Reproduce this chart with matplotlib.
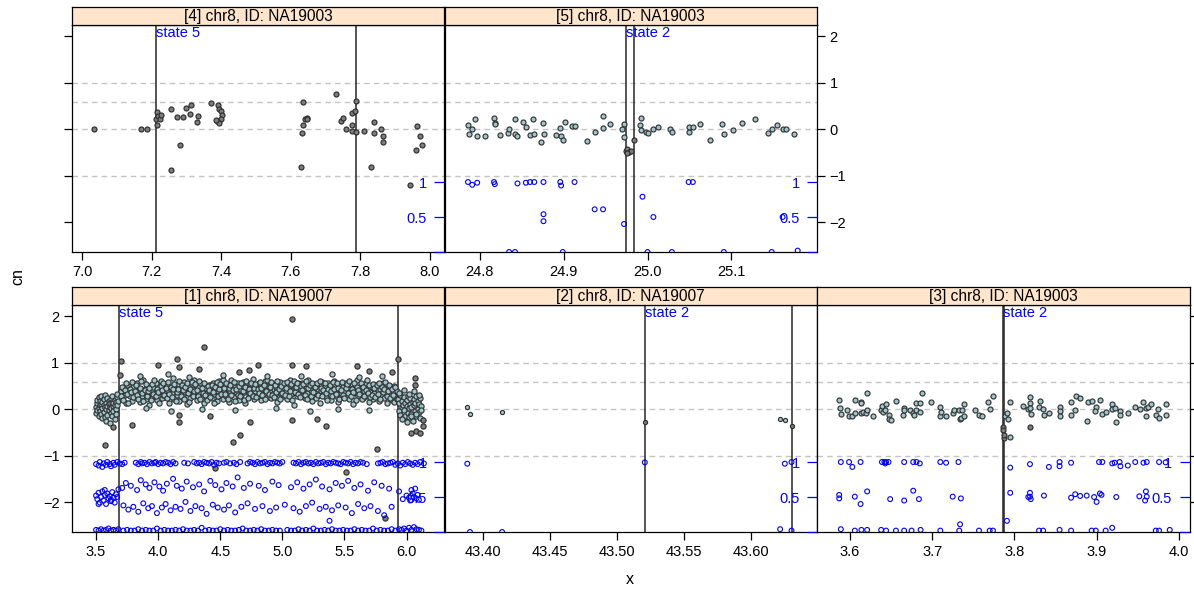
import matplotlib.pyplot as plt
import numpy as np

plt.rcParams['font.family'] = ['Liberation Sans', 'DejaVu Sans']

# ---------------- data ----------------
ref_levels = [-1, 0, 0.585, 1]

# panel [1] chr8, ID: NA19007
p1_xa = [3.50, 3.50, 3.51, 3.51, 3.51, 3.52, 3.52, 3.52, 3.53, 3.53, 3.53, 3.54, 3.54, 3.54,
         3.55, 3.55, 3.55, 3.56, 3.56, 3.56, 3.57, 3.57, 3.57, 3.58, 3.58, 3.58, 3.59, 3.59,
         3.59, 3.60, 3.60, 3.60, 3.61, 3.61, 3.61, 3.62, 3.62, 3.62, 3.63, 3.63, 3.63, 3.64,
         3.64, 3.64, 3.65, 3.65, 3.65, 3.66, 3.66, 3.66, 3.67, 3.67, 3.67, 3.68]
p1_cna = [0.05, -0.08, 0.12, -0.02, 0.20, 0.02, -0.15, 0.25, 0.08, -0.05, 0.18, -0.10, 0.10, 0.28,
          -0.20, 0.03, 0.15, 0.22, -0.06, 0.09, -0.18, 0.05, 0.30, 0.14, -0.25, 0.00, 0.07, -0.12,
          0.24, 0.18, -0.02, 0.10, -0.30, 0.12, 0.05, 0.21, -0.08, 0.02, 0.16, -0.14, 0.27, 0.06,
          -0.04, 0.13, 0.20, -0.22, 0.09, 0.01, 0.15, -0.10, 0.25, 0.08, 0.32, 0.18]

p1_xb = [3.70, 3.71, 3.72, 3.73, 3.74, 3.75, 3.76, 3.77, 3.78, 3.79, 3.80, 3.81,
         3.82, 3.83, 3.84, 3.85, 3.86, 3.87, 3.88, 3.89, 3.90, 3.91, 3.92, 3.93,
         3.94, 3.95, 3.96, 3.97, 3.98, 3.99, 4.00, 4.01, 4.02, 4.03, 4.04, 4.05,
         4.06, 4.07, 4.08, 4.09, 4.10, 4.11, 4.12, 4.13, 4.14, 4.15, 4.16, 4.17,
         4.18, 4.19, 4.20, 4.21, 4.22, 4.23, 4.24, 4.25, 4.26, 4.27, 4.28, 4.29,
         4.30, 4.31, 4.32, 4.33, 4.34, 4.35, 4.36, 4.37, 4.38, 4.39, 4.40, 4.41,
         4.42, 4.43, 4.44, 4.45, 4.46, 4.47, 4.48, 4.49, 4.50, 4.51, 4.52, 4.53,
         4.54, 4.55, 4.56, 4.57, 4.58, 4.59, 4.60, 4.61, 4.62, 4.63, 4.64, 4.65,
         4.66, 4.67, 4.68, 4.69, 4.70, 4.71, 4.72, 4.73, 4.74, 4.75, 4.76, 4.77,
         4.78, 4.79, 4.80, 4.81, 4.82, 4.83, 4.84, 4.85, 4.86, 4.87, 4.88, 4.89,
         4.90, 4.91, 4.92, 4.93, 4.94, 4.95, 4.96, 4.97, 4.98, 4.99, 5.00, 5.01,
         5.02, 5.03, 5.04, 5.05, 5.06, 5.07, 5.08, 5.09, 5.10, 5.11, 5.12, 5.13,
         5.14, 5.15, 5.16, 5.17, 5.18, 5.19, 5.20, 5.21, 5.22, 5.23, 5.24, 5.25,
         5.26, 5.27, 5.28, 5.29, 5.30, 5.31, 5.32, 5.33, 5.34, 5.35, 5.36, 5.37,
         5.38, 5.39, 5.40, 5.41, 5.42, 5.43, 5.44, 5.45, 5.46, 5.47, 5.48, 5.49,
         5.50, 5.51, 5.52, 5.53, 5.54, 5.55, 5.56, 5.57, 5.58, 5.59, 5.60, 5.61,
         5.62, 5.63, 5.64, 5.65, 5.66, 5.67, 5.68, 5.69, 5.70, 5.71, 5.72, 5.73,
         5.74, 5.75, 5.76, 5.77, 5.78, 5.79, 5.80, 5.81, 5.82, 5.83, 5.84, 5.85,
         5.86, 5.87, 5.88, 5.89, 5.90, 5.91, 5.92]
p1_cnb1 = [0.38, 0.22, 0.45, 0.30, 0.12, 0.52, 0.35, 0.27, 0.41, 0.18, 0.48, 0.33,
           0.25, 0.56, 0.40, 0.15, 0.37, 0.29, 0.62, 0.44, 0.21, 0.34, 0.50, 0.08,
           0.39, 0.26, 0.47, 0.32, 0.55, 0.19, 0.42, 0.36, 0.60, 0.24, 0.31, 0.46,
           0.28, 0.51, 0.38, 0.14, 0.43, 0.35, 0.66, 0.22, 0.40, 0.30, 0.53, 0.17,
           0.45, 0.33, 0.27, 0.58, 0.36, 0.10, 0.49, 0.39, 0.23, 0.44, 0.31, 0.62,
           0.37, 0.20, 0.48, 0.34, 0.55, 0.26, 0.41, 0.13, 0.46, 0.35, 0.29, 0.52,
           0.40, 0.24, 0.57, 0.33, 0.44, 0.18, 0.38, 0.61, 0.30, 0.47, 0.22, 0.36,
           0.50, 0.28, 0.42, 0.15, 0.39, 0.63, 0.34, 0.25, 0.48, 0.37, 0.55, 0.20,
           0.43, 0.31, 0.58, 0.36, 0.12, 0.46, 0.40, 0.27, 0.53, 0.33, 0.65, 0.22,
           0.39, 0.48, 0.29, 0.56, 0.35, 0.19, 0.44, 0.32, 0.60, 0.41, 0.26, 0.50,
           0.37, 0.23, 0.54, 0.42, 0.30, 0.47, 0.16, 0.38, 0.59, 0.33, 0.45, 0.27,
           0.51, 0.36, 0.21, 0.44, 0.62, 0.32, 0.40, 0.09, 0.48, 0.35, 0.28, 0.55,
           0.42, 0.30, 0.57, 0.38, 0.24, 0.46, 0.34, 0.63, 0.26, 0.41, 0.18, 0.49,
           0.36, 0.52, 0.29, 0.44, 0.14, 0.39, 0.58, 0.31, 0.47, 0.25, 0.40, 0.55,
           0.33, 0.20, 0.45, 0.37, 0.60, 0.28, 0.42, 0.16, 0.50, 0.35, 0.26, 0.48,
           0.39, 0.57, 0.30, 0.43, 0.22, 0.36, 0.53, 0.11, 0.41, 0.34, 0.62, 0.27,
           0.45, 0.32, 0.50, 0.24, 0.38, 0.56, 0.29, 0.42, 0.15, 0.36, 0.47, 0.21,
           0.34, 0.51, 0.27, 0.40, 0.18, 0.44, 0.30, 0.55, 0.23, 0.37, 0.12, 0.46,
           0.31, 0.42, 0.20, 0.35, 0.50, 0.26, 0.38]
p1_cnb2 = [0.28, 0.47, 0.19, 0.40, 0.55, 0.32, 0.14, 0.43, 0.36, 0.58, 0.25, 0.39,
           0.51, 0.30, 0.22, 0.45, 0.60, 0.34, 0.17, 0.41, 0.53, 0.27, 0.38, 0.46,
           0.20, 0.54, 0.33, 0.63, 0.29, 0.44, 0.37, 0.12, 0.50, 0.41, 0.57, 0.31,
           0.45, 0.23, 0.59, 0.33, 0.48, 0.26, 0.42, 0.54, 0.18, 0.37, 0.44, 0.61,
           0.29, 0.52, 0.40, 0.21, 0.47, 0.56, 0.34, 0.16, 0.43, 0.58, 0.27, 0.38,
           0.54, 0.41, 0.29, 0.60, 0.22, 0.45, 0.35, 0.57, 0.31, 0.19, 0.49, 0.40,
           0.26, 0.51, 0.36, 0.14, 0.47, 0.58, 0.27, 0.43, 0.53, 0.32, 0.62, 0.45,
           0.33, 0.57, 0.21, 0.46, 0.52, 0.30, 0.40, 0.59, 0.18, 0.43, 0.31, 0.49,
           0.27, 0.55, 0.38, 0.20, 0.48, 0.61, 0.24, 0.44, 0.35, 0.57, 0.29, 0.46,
           0.53, 0.25, 0.42, 0.34, 0.59, 0.46, 0.30, 0.51, 0.22, 0.38, 0.62, 0.33,
           0.47, 0.58, 0.31, 0.26, 0.52, 0.37, 0.60, 0.44, 0.21, 0.50, 0.34, 0.56,
           0.30, 0.45, 0.58, 0.27, 0.39, 0.53, 0.20, 0.61, 0.36, 0.47, 0.55, 0.32,
           0.26, 0.49, 0.40, 0.54, 0.31, 0.60, 0.22, 0.45, 0.52, 0.29, 0.57, 0.37,
           0.48, 0.23, 0.55, 0.31, 0.61, 0.46, 0.27, 0.40, 0.56, 0.35, 0.20, 0.44,
           0.51, 0.38, 0.27, 0.58, 0.43, 0.32, 0.55, 0.45, 0.22, 0.41, 0.59, 0.30,
           0.24, 0.46, 0.53, 0.35, 0.60, 0.28, 0.44, 0.37, 0.55, 0.19, 0.48, 0.40,
           0.33, 0.56, 0.22, 0.47, 0.29, 0.41, 0.62, 0.35, 0.51, 0.25, 0.30, 0.53,
           0.45, 0.26, 0.52, 0.33, 0.57, 0.21, 0.48, 0.36, 0.42, 0.58, 0.28, 0.39,
           0.52, 0.24, 0.44, 0.30, 0.16, 0.47, 0.22]
p1_xe = [3.85, 4.08, 4.25, 4.52, 4.88, 5.15, 5.40, 5.62, 5.80,
         3.90, 4.10, 4.35, 4.62, 4.95, 5.22, 5.45, 5.70]
p1_cne = [0.70, 0.76, 0.68, 0.74, 0.72, 0.70, 0.75, 0.68, 0.71,
          0.02, -0.05, 0.00, -0.02, 0.03, -0.04, 0.01, -0.03]

p1_xc = [5.93, 5.94, 5.94, 5.95, 5.95, 5.96, 5.96, 5.97, 5.97, 5.98, 5.98, 5.99, 5.99,
         6.00, 6.00, 6.01, 6.01, 6.02, 6.02, 6.03, 6.03, 6.04, 6.04, 6.05, 6.05, 6.06,
         6.06, 6.07, 6.07, 6.08, 6.08, 6.09, 6.09, 6.10, 6.10, 6.11, 6.11, 6.12, 6.12,
         5.94, 5.96, 5.98, 6.00, 6.02, 6.04, 6.06, 6.08, 6.10]
p1_cnc = [0.22, -0.05, 0.12, 0.30, -0.12, 0.05, 0.18, -0.20, 0.08, 0.25, -0.02, 0.14, -0.15,
          0.06, 0.20, -0.08, 0.28, 0.02, -0.18, 0.10, 0.24, -0.10, 0.04, 0.16, -0.25, 0.09,
          0.21, -0.04, 0.13, 0.27, -0.14, 0.01, 0.17, -0.06, 0.11, 0.23, -0.20, 0.07, -0.02,
          0.35, -0.22, 0.40, -0.28, 0.33, -0.16, 0.38, -0.10, 0.30]

p1_xd = [3.70, 3.69, 3.57, 3.64, 3.79, 4.00, 4.15, 4.17, 4.17, 4.17, 4.37, 4.33, 4.42, 4.46,
         4.60, 4.66, 4.65, 4.74, 4.80, 4.73, 5.08, 5.08, 5.08, 5.19, 5.28, 5.35, 5.51, 5.60,
         5.70, 5.76, 5.83, 5.88, 5.93, 6.07, 6.07, 6.04, 6.08, 6.11, 6.13, 6.13]
p1_cnd = [1.04, 0.73, -0.77, -0.39, -0.34, 0.94, 1.07, 0.90, -0.13, -0.29, 1.34, 0.85, -0.15,
          -1.26, -0.70, -0.56, 0.80, -0.27, 0.95, 0.84, 1.93, 0.95, -0.23, 0.92, -0.22, -0.36,
          -1.36, 0.92, 0.82, -0.86, -2.34, 0.80, 1.07, 0.66, 0.51, -0.52, -0.47, -0.51, -0.36,
          -0.24]

# B allele frequency, panel 1
p1_bx1 = [3.50, 3.52, 3.53, 3.55, 3.56, 3.58, 3.59, 3.61, 3.62, 3.64, 3.65, 3.67, 3.69, 3.71, 3.73,
          3.82, 3.84, 3.86, 3.87, 3.89, 3.91, 3.93, 3.95, 3.97, 3.98, 4.00, 4.02, 4.04, 4.06,
          4.08, 4.10, 4.12, 4.14,
          4.21, 4.24,
          4.29, 4.31, 4.33, 4.35, 4.37, 4.39, 4.41, 4.43, 4.45, 4.47, 4.49,
          4.53, 4.55, 4.58, 4.61, 4.63, 4.66,
          4.72, 4.74, 4.76, 4.78, 4.80, 4.82, 4.84, 4.86, 4.88, 4.90, 4.92, 4.94, 4.96, 4.98, 5.00,
          5.09, 5.11, 5.13, 5.15, 5.17, 5.19, 5.21, 5.23, 5.25, 5.27, 5.29, 5.31, 5.33, 5.35,
          5.37, 5.39, 5.41, 5.43, 5.45, 5.47, 5.49, 5.51, 5.53, 5.55, 5.57, 5.59, 5.61, 5.63,
          5.65, 5.68,
          5.77, 5.79, 5.81, 5.83, 5.85, 5.87, 5.89, 5.91, 5.93, 5.95, 5.97, 5.99, 6.01, 6.03,
          6.05, 6.07, 6.09, 6.11, 6.14]
p1_b1 = [0.97, 0.95, 1.0, 0.93, 0.98, 0.96, 1.0, 0.97, 0.94, 0.99, 0.96, 1.0, 0.98, 0.97, 0.99,
         0.99, 0.97, 1.0, 0.98, 0.99, 0.97, 1.0, 0.98, 0.99, 1.0, 0.97, 0.99, 0.98, 1.0,
         0.99, 0.97, 1.0, 0.98,
         0.99, 0.98,
         1.0, 0.98, 0.99, 0.97, 1.0, 0.99, 0.98, 1.0, 0.96, 0.99, 0.98,
         0.99, 1.0, 0.98, 0.99, 0.97, 1.0,
         0.98, 1.0, 0.99, 0.97, 1.0, 0.98, 0.99, 1.0, 0.97, 0.99, 0.98, 1.0, 0.99, 0.98, 1.0,
         0.99, 0.98, 1.0, 0.97, 0.99, 1.0, 0.98, 0.99, 0.97, 1.0, 0.98, 0.99, 1.0, 0.97,
         0.99, 0.98, 1.0, 0.99, 0.98, 0.97, 1.0, 0.99, 0.98, 1.0, 0.97, 0.99, 0.98, 1.0,
         0.99, 0.97,
         0.98, 0.99, 1.0, 0.97, 0.98, 0.99, 1.0, 0.96, 0.98, 0.95, 0.99, 0.97, 1.0, 0.98,
         0.96, 0.99, 0.97, 1.0, 0.98]
p1_bx0 = [3.50, 3.52, 3.54, 3.56, 3.58, 3.60, 3.62, 3.64, 3.66, 3.68,
          3.72, 3.75, 3.78, 3.81, 3.84, 3.87, 3.90, 3.93, 3.96, 3.99, 4.02, 4.05, 4.08, 4.11,
          4.14, 4.17, 4.20, 4.23, 4.26, 4.29, 4.32, 4.35, 4.38, 4.41, 4.44, 4.47, 4.50, 4.53,
          4.56, 4.59, 4.62, 4.65, 4.68, 4.71, 4.74, 4.77, 4.80, 4.83, 4.86, 4.89, 4.92, 4.95,
          4.98,
          5.04, 5.07, 5.10, 5.13, 5.16, 5.19, 5.22, 5.25, 5.28, 5.31, 5.34, 5.37, 5.40, 5.43,
          5.46, 5.49, 5.52, 5.55, 5.58, 5.61, 5.64, 5.67, 5.70, 5.73, 5.76, 5.79, 5.82, 5.85,
          5.88, 5.91,
          5.94, 5.96, 5.98, 6.00, 6.02, 6.04, 6.06, 6.08, 6.10, 6.12]
p1_b0 = [0.03, 0.02, 0.04, 0.02, 0.03, 0.05, 0.02, 0.03, 0.02, 0.04,
         0.02, 0.03, 0.02, 0.02, 0.04, 0.02, 0.03, 0.02, 0.02, 0.05, 0.02, 0.03, 0.02, 0.02,
         0.03, 0.02, 0.04, 0.02, 0.02, 0.03, 0.02, 0.06, 0.02, 0.03, 0.02, 0.02, 0.04, 0.02,
         0.03, 0.02, 0.02, 0.03, 0.05, 0.02, 0.02, 0.03, 0.02, 0.04, 0.02, 0.02, 0.03, 0.02,
         0.02,
         0.03, 0.02, 0.02, 0.04, 0.02, 0.03, 0.02, 0.05, 0.02, 0.02, 0.03, 0.02, 0.04, 0.02,
         0.02, 0.03, 0.02, 0.02, 0.04, 0.02, 0.03, 0.02, 0.02, 0.05, 0.02, 0.03, 0.02, 0.02,
         0.04, 0.02,
         0.04, 0.03, 0.05, 0.02, 0.06, 0.03, 0.07, 0.04, 0.03, 0.02]
p1_bxh = [3.50, 3.51, 3.52, 3.53, 3.54, 3.55, 3.56, 3.57, 3.58, 3.59, 3.60, 3.61, 3.62, 3.63,
          3.64, 3.65, 3.66, 3.67, 3.68, 3.52, 3.57, 3.62,
          3.71, 3.74, 3.78, 3.83, 3.86, 3.90, 3.93, 3.97, 4.01, 4.04, 4.07, 4.12, 4.15, 4.19,
          4.23, 4.28, 4.33, 4.37, 4.42, 4.46, 4.51, 4.55, 4.60, 4.64, 4.69, 4.74, 4.81, 4.86,
          4.92, 4.97, 5.07, 5.12, 5.17, 5.22, 5.27, 5.32, 5.38, 5.43, 5.48, 5.53, 5.58, 5.63,
          5.69, 5.74, 5.80, 5.86,
          3.72, 3.76, 3.80, 3.84, 3.88, 3.92, 3.95, 3.99, 4.03, 4.06, 4.10, 4.14, 4.18, 4.22,
          4.26, 4.30, 4.35, 4.39, 4.44, 4.48, 4.53, 4.57, 4.62, 4.67, 4.72, 4.78, 4.84, 4.90,
          4.95, 5.02, 5.09, 5.14, 5.19, 5.24, 5.30, 5.35, 5.40, 5.45, 5.51, 5.56, 5.61, 5.66,
          5.71, 5.77, 5.82, 5.88,
          5.94, 5.97, 6.00, 6.03, 6.05, 6.06, 6.07, 6.08, 6.09, 6.10, 6.04, 6.02, 5.38]
p1_bh = [0.52, 0.47, 0.56, 0.42, 0.50, 0.58, 0.45, 0.53, 0.40, 0.55, 0.48, 0.51, 0.44, 0.57,
         0.49, 0.42, 0.54, 0.50, 0.61, 0.40, 0.60, 0.46,
         0.63, 0.70, 0.66, 0.60, 0.74, 0.68, 0.63, 0.71, 0.65, 0.59, 0.69, 0.76, 0.66, 0.62,
         0.72, 0.64, 0.68, 0.58, 0.73, 0.67, 0.61, 0.70, 0.65, 0.78, 0.63, 0.69, 0.66, 0.60,
         0.72, 0.67, 0.64, 0.71, 0.62, 0.68, 0.75, 0.65, 0.61, 0.70, 0.66, 0.73, 0.63, 0.68,
         0.59, 0.71, 0.66, 0.62,
         0.38, 0.32, 0.36, 0.29, 0.41, 0.34, 0.37, 0.27, 0.35, 0.40, 0.31, 0.36, 0.33, 0.43,
         0.30, 0.37, 0.34, 0.26, 0.39, 0.35, 0.32, 0.38, 0.28, 0.36, 0.41, 0.33, 0.37, 0.30,
         0.35, 0.39, 0.34, 0.29, 0.37, 0.42, 0.33, 0.36, 0.31, 0.38, 0.35, 0.27, 0.40, 0.34,
         0.37, 0.30, 0.24, 0.36,
         0.58, 0.47, 0.52, 0.45, 0.55, 0.50, 0.62, 0.48, 0.53, 0.46, 0.60, 0.49, 0.16]

# panel [2] chr8, ID: NA19007
p2_x = [43.388, 43.390, 43.414, 43.6215, 43.625]
p2_cn = [0.04, -0.11, -0.06, -0.21, -0.24]
p2_xd = [43.5205, 43.630]
p2_cnd = [-0.29, -0.36]
p2_bx = [43.388, 43.5205, 43.625, 43.630, 43.390, 43.414, 43.6215, 43.630]
p2_b = [0.976, 0.995, 0.976, 1.0, 0.0, 0.0, 0.04, 0.02]

# panel [3] chr8, ID: NA19003
p3_x = [3.587, 3.588, 3.589, 3.596, 3.599, 3.603, 3.606, 3.606, 3.613, 3.613, 3.613, 3.616,
        3.619, 3.621, 3.621, 3.628, 3.638, 3.639, 3.640, 3.643, 3.644, 3.647, 3.648, 3.650,
        3.656, 3.665, 3.666, 3.666, 3.673, 3.677, 3.678, 3.681, 3.681, 3.685, 3.685, 3.688,
        3.699, 3.709, 3.710, 3.711, 3.717, 3.725, 3.727, 3.733, 3.734, 3.735, 3.736, 3.739,
        3.739, 3.752, 3.757, 3.761, 3.768, 3.770, 3.774,
        3.789, 3.792, 3.791, 3.795, 3.795, 3.811, 3.817, 3.819, 3.819, 3.819, 3.820, 3.831,
        3.830, 3.835, 3.836, 3.842, 3.855, 3.855, 3.855, 3.869, 3.869, 3.874, 3.875, 3.880,
        3.888, 3.889, 3.895, 3.899, 3.898, 3.904, 3.906, 3.911, 3.919, 3.919, 3.922, 3.924,
        3.928, 3.929, 3.938, 3.947, 3.953, 3.957, 3.960, 3.960, 3.962, 3.966, 3.972, 3.975,
        3.976, 3.985, 3.984]
p3_cn = [0.19, 0.02, -0.11, -0.02, -0.15, -0.14, 0.19, -0.09, 0.16, 0.12, -0.09, -0.06,
         -0.08, 0.35, -0.02, -0.16, -0.02, 0.07, -0.06, -0.02, 0.11, -0.13, -0.22, -0.24,
         0.18, -0.13, 0.02, -0.02, -0.02, -0.09, -0.13, 0.14, -0.02, 0.14, -0.06, 0.35,
         0.16, 0.04, -0.16, -0.06, -0.14, -0.09, -0.02, -0.02, -0.22, -0.20, -0.02, 0.11,
         -0.14, -0.02, -0.13, -0.14, 0.16, 0.00, 0.28,
         -0.16, -0.22, -0.09, 0.16, -0.61, 0.07, 0.00, 0.25, 0.14, 0.02, -0.11, 0.17,
         0.05, 0.00, -0.13, -0.09, 0.05, -0.04, -0.16, 0.16, -0.12, -0.02, 0.28, 0.24,
         -0.25, 0.15, 0.17, 0.05, -0.04, 0.19, -0.11, -0.06, 0.11, 0.00, 0.02, -0.27,
         -0.04, -0.13, -0.09, 0.05, 0.00, 0.16, 0.02, -0.15, 0.04, 0.11, -0.13, 0.00,
         -0.20, 0.11, -0.13]
p3_xd = [3.786, 3.787, 3.786, 3.787, 3.819]
p3_cnd = [-0.38, -0.63, -0.45, -0.55, -0.38]
p3_bx = [3.589, 3.599, 3.603, 3.613, 3.639, 3.642, 3.643, 3.644, 3.647, 3.666, 3.677, 3.681,
         3.685, 3.710, 3.717, 3.732,
         3.587, 3.587, 3.606, 3.613, 3.621, 3.649, 3.666, 3.677, 3.684, 3.725, 3.735, 3.734,
         3.589, 3.606, 3.614, 3.621, 3.638, 3.644, 3.656, 3.666, 3.675, 3.686, 3.710, 3.733,
         3.757, 3.770, 3.774,
         3.795, 3.819, 3.842, 3.855, 3.855, 3.869, 3.903, 3.907, 3.919, 3.922, 3.928, 3.929,
         3.938, 3.947, 3.957, 3.961, 3.976, 3.984,
         3.791, 3.795, 3.817, 3.819, 3.819, 3.820, 3.836, 3.869, 3.874, 3.880, 3.888, 3.897,
         3.900, 3.904, 3.906, 3.924, 3.952, 3.960, 3.961, 3.959,
         3.830, 3.835, 3.855, 3.869, 3.894, 3.899, 3.911, 3.919, 3.972, 3.976, 3.989]
p3_b = [1.0, 1.0, 0.93, 1.0, 1.0, 1.0, 0.98, 1.0, 1.0, 1.0, 1.0, 1.0,
        0.98, 1.0, 0.99, 1.0,
        0.53, 0.48, 0.505, 0.40, 0.58, 0.47, 0.45, 0.59, 0.47, 0.505, 0.48, 0.11,
        0.04, 0.02, 0.03, 0.03, 0.03, 0.02, 0.02, 0.02, 0.02, 0.03, 0.02, 0.02,
        0.02, 0.02, 0.02,
        0.92, 0.97, 0.93, 1.0, 0.94, 0.99, 1.0, 1.0, 0.98, 0.99, 1.0, 0.94,
        0.95, 1.0, 0.99, 1.0, 1.0, 0.995,
        0.16, 0.56, 0.50, 0.56, 0.505, 0.47, 0.52, 0.49, 0.54, 0.515, 0.52, 0.50,
        0.43, 0.55, 0.53, 0.50, 0.51, 0.58, 0.505, 0.45,
        0.02, 0.02, 0.03, 0.02, 0.02, 0.02, 0.02, 0.06, 0.02, 0.02, 0.03]

# panel [4] chr8, ID: NA19003
p4_x = [7.035, 7.169, 7.186, 7.215, 7.213, 7.215, 7.219, 7.223, 7.227, 7.255, 7.255, 7.272,
        7.281, 7.291, 7.298, 7.314, 7.312, 7.331, 7.334, 7.372, 7.391, 7.394, 7.401, 7.404,
        7.400, 7.389, 7.394, 7.384, 7.629, 7.634, 7.637, 7.636, 7.641, 7.646, 7.648, 7.731,
        7.746, 7.751, 7.760, 7.778, 7.777, 7.776, 7.784, 7.788, 7.789, 7.811, 7.832, 7.840,
        7.841, 7.859, 7.866, 7.866, 7.944, 7.960, 7.963, 7.973, 7.979]
p4_cn = [-0.01, 0.01, 0.01, 0.37, 0.21, 0.08, 0.29, 0.22, 0.30, 0.42, -0.88, 0.25,
         -0.34, 0.25, 0.46, 0.52, 0.33, 0.16, 0.29, 0.56, 0.51, 0.43, 0.39, 0.30,
         0.21, 0.18, 0.12, 0.19, -0.82, -0.09, 0.09, 0.58, 0.22, 0.24, 0.21, 0.75,
         0.18, 0.24, 0.01, 0.09, -0.04, 0.35, 0.39, 0.60, -0.06, -0.04, -0.82, -0.09,
         0.16, -0.01, -0.15, -0.28, -1.20, -0.46, 0.06, -0.15, -0.34]

# panel [5] chr8, ID: NA19003
p5_x = [24.786, 24.791, 24.794, 24.787, 24.797, 24.806, 24.817, 24.818, 24.818, 24.824,
        24.834, 24.835, 24.842, 24.842, 24.845, 24.852, 24.855, 24.860, 24.863, 24.865,
        24.876, 24.877, 24.873, 24.891, 24.896, 24.897, 24.899, 24.902, 24.910, 24.913,
        24.928, 24.937, 24.947, 24.947, 24.955, 24.970, 24.972, 24.972, 24.992, 24.991,
        24.992, 24.998, 25.001, 25.007, 25.012, 25.027, 25.029, 25.049, 25.050, 25.054,
        25.062, 25.074, 25.089, 25.091, 25.102, 25.113, 25.128, 25.144, 25.148, 25.154,
        25.161, 25.165, 25.175]
p5_cn = [0.09, 0.01, 0.21, -0.11, -0.14, -0.14, 0.24, 0.14, 0.11, -0.12,
         -0.09, -0.01, 0.22, -0.11, -0.16, 0.16, 0.05, -0.13, 0.21, -0.11,
         0.14, -0.10, -0.29, -0.12, 0.03, -0.14, -0.24, 0.15, 0.06, 0.06,
         -0.25, -0.07, 0.27, 0.03, 0.11, -0.01, 0.11, -0.17, 0.24, 0.08,
         -0.02, -0.07, -0.09, -0.01, 0.05, 0.01, -0.06, -0.06, 0.04, 0.05,
         0.10, -0.24, 0.11, -0.11, -0.02, 0.13, 0.21, -0.09, 0.00, 0.09,
         0.01, 0.01, -0.11]
p5_xd = [24.974, 24.976, 24.978, 24.980, 24.976, 24.984]
p5_cnd = [-0.47, -0.42, -0.49, -0.47, -0.51, -0.24]
p5_bx = [24.786, 24.791, 24.797, 24.817, 24.818, 24.845, 24.855, 24.860, 24.865, 24.876,
         24.896, 24.897, 24.913, 24.876, 24.876, 24.937, 24.947, 24.972, 24.994, 25.007,
         25.049, 25.054, 25.161, 25.179, 24.835, 24.842, 24.899, 25.000, 25.029, 25.091,
         25.148]
p5_b = [1.0, 0.96, 0.99, 1.0, 0.97, 0.98, 0.99, 1.0, 1.0, 1.0,
        1.0, 0.95, 1.0, 0.54, 0.44, 0.61, 0.61, 0.40, 0.79, 0.50,
        1.0, 1.0, 0.50, 0.02, 0.0, 0.0, 0.0, 0.0, 0.0, 0.0,
        0.0]

panels = [
    dict(title='[1] chr8, ID: NA19007', col=0, row=1, xlim=(3.306, 6.306),
         xticks=[3.5, 4.0, 4.5, 5.0, 5.5, 6.0], fmt='%.1f', segs=[3.686, 5.931], state='state 5',
         lite=(p1_xa + p1_xb + p1_xb + p1_xe + p1_xc, p1_cna + p1_cnb1 + p1_cnb2 + p1_cne + p1_cnc),
         dark=(p1_xd, p1_cnd),
         baf=(p1_bx1 + p1_bx0 + p1_bxh, p1_b1 + p1_b0 + p1_bh), yside='left', ylab=True, ms=14),
    dict(title='[2] chr8, ID: NA19007', col=1, row=1, xlim=(43.371, 43.649),
         xticks=[43.40, 43.45, 43.50, 43.55, 43.60], fmt='%.2f', segs=[43.5205, 43.630],
         state='state 2', lite=(p2_x, p2_cn), dark=(p2_xd, p2_cnd), baf=(p2_bx, p2_b),
         yside=None, ylab=False, ms=9),
    dict(title='[3] chr8, ID: NA19003', col=2, row=1, xlim=(3.560, 4.013),
         xticks=[3.6, 3.7, 3.8, 3.9, 4.0], fmt='%.1f', segs=[3.7862, 3.7878], state='state 2',
         lite=(p3_x, p3_cn), dark=(p3_xd, p3_cnd), baf=(p3_bx, p3_b), yside='right', ylab=False,
         ms=13),
    dict(title='[4] chr8, ID: NA19003', col=0, row=0, xlim=(6.971, 8.043),
         xticks=[7.0, 7.2, 7.4, 7.6, 7.8, 8.0], fmt='%.1f', segs=[7.213, 7.789], state='state 5',
         lite=([], []), dark=(p4_x, p4_cn), baf=([], []), yside='left', ylab=False, ms=13),
    dict(title='[5] chr8, ID: NA19003', col=1, row=0, xlim=(24.758, 25.202),
         xticks=[24.8, 24.9, 25.0, 25.1], fmt='%.1f', segs=[24.974, 24.984], state='state 2',
         lite=(p5_x, p5_cn), dark=(p5_xd, p5_cnd), baf=(p5_bx, p5_b), yside='right', ylab=True,
         ms=13),
]

# ---------------- figure ----------------
W, H = 1194, 589
fig = plt.figure(figsize=(W / 100, H / 100), dpi=100)

PW, PH, SH = 372.5, 227, 18.5
tops = [25, 305]


def px_axes(left, top, width, height):
    return fig.add_axes([left / W, 1 - (top + height) / H, width / W, height / H])


for p in panels:
    left = 72 + p['col'] * PW
    top = tops[p['row']]
    ax = px_axes(left, top, PW, PH)
    ax.set_xlim(p['xlim'])
    ax.set_ylim(-2.645, 2.237)

    # B allele frequency on its own scale (twinx resets the left axis, so do it first)
    ax2 = ax.twinx()
    ax2.set_ylim(0, 3.244)
    ax2.scatter(p['baf'][0], p['baf'][1], s=12, facecolor='none', edgecolor='blue',
                lw=0.8, zorder=4)
    ax2.set_yticks([0, 0.5, 1])
    ax2.set_yticklabels(['', '0.5', '1'])
    ax2.tick_params(axis='y', direction='in', length=7, width=0.9, colors='blue',
                    labelsize=10.5, pad=-12.5)
    for lab in ax2.get_yticklabels():
        lab.set_horizontalalignment('right')
    for sp in ax2.spines.values():
        sp.set_visible(False)

    for lev in ref_levels:
        ax.axhline(lev, color='#c4c4c4', lw=1, ls=(0, (4, 3)), zorder=1)
    for s in p['segs']:
        ax.axvline(s, color='#262626', lw=1.1, zorder=2)
    ax.text(p['segs'][0], 0.997, p['state'], transform=ax.get_xaxis_transform(),
            ha='left', va='top', color='blue', fontsize=10.5)
    ax.scatter(p['lite'][0], p['lite'][1], s=p['ms'], facecolor='#9fc6cc', edgecolor='#333333',
               lw=0.85, zorder=3)
    ax.scatter(p['dark'][0], p['dark'][1], s=p['ms'], facecolor='#7d7d7d', edgecolor='#2e2e2e',
               lw=0.85, zorder=3)

    ax.set_xticks(p['xticks'])
    ax.set_xticklabels([p['fmt'] % v for v in p['xticks']])
    ax.tick_params(axis='x', direction='out', length=6, width=0.9, labelsize=10.5, pad=3)
    ax.set_yticks([-2, -1, 0, 1, 2])
    ax.set_yticklabels(['\u22122', '\u22121', '0', '1', '2'])
    ax.tick_params(axis='y', direction='out', length=6, width=0.9, labelsize=10.5, pad=3,
                   left=p['yside'] == 'left', right=p['yside'] == 'right',
                   labelleft=p['yside'] == 'left' and p['ylab'],
                   labelright=p['yside'] == 'right' and p['ylab'])
    for sp in ax.spines.values():
        sp.set_linewidth(0.9)

    strip = px_axes(left, top - SH, PW, SH)
    strip.set_facecolor('#ffe5cc')
    strip.set_xticks([])
    strip.set_yticks([])
    for sp in strip.spines.values():
        sp.set_linewidth(0.9)
    strip.text(0.5, 0.45, p['title'], ha='center', va='center', fontsize=11.2,
               transform=strip.transAxes)

fig.text(18 / W, 1 - 277 / H, 'cn', rotation=90, ha='center', va='center', fontsize=11.5)
fig.text(630 / W, 1 - 579 / H, 'x', ha='center', va='center', fontsize=11.5)

fig.savefig('out.png', dpi=100)
